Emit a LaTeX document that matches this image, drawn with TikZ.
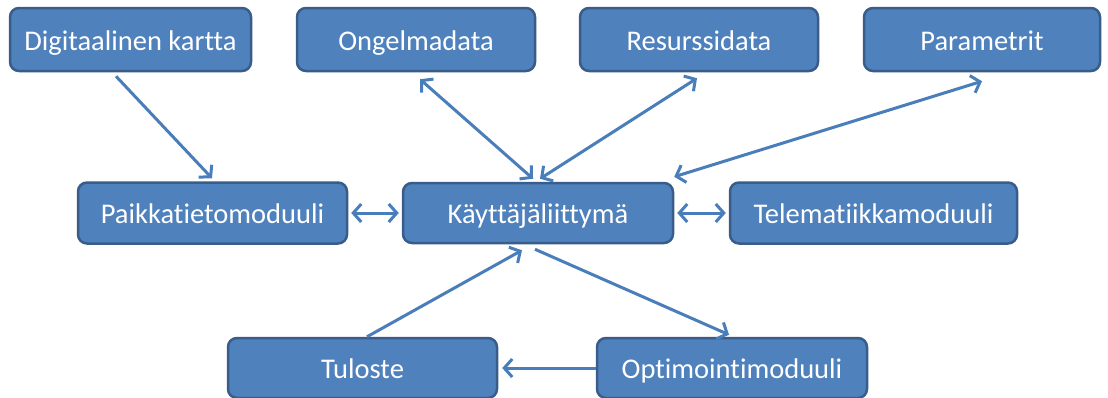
\documentclass[tikz,border=0pt]{standalone}
\usepackage{fontspec}
\setmainfont{Carlito}[Ligatures=NoCommon]
\usetikzlibrary{arrows.meta,calc}
\definecolor{boxfill}{HTML}{4F81BD}
\definecolor{boxline}{HTML}{385D8A}
\definecolor{arrowc}{HTML}{4A7EBB}
\begin{document}
\begin{tikzpicture}[x=1pt,y=-1pt,
  box/.style={draw=boxline, fill=boxfill, line width=2.5pt, rounded corners=9pt,
    text=white, font=\fontsize{28.5}{32}\selectfont, inner sep=0pt,
    text height=24pt, text depth=3pt},
  conn/.style={draw=arrowc, line width=3pt},
  tip/.style={-{Straight Barb[length=8pt,width=18pt]}},
  both/.style={{Straight Barb[length=8pt,width=18pt]}-{Straight Barb[length=8pt,width=18pt]}}]
\useasboundingbox (0,0) rectangle (1108,397);
\fill[white] (0,0) rectangle (1108,397);
% top row
\node[box, minimum width=241pt, minimum height=63pt] (dk)  at (130.5,39.5) {Digitaalinen kartta};
\node[box, minimum width=238pt, minimum height=63pt] (ong) at (416,39.5) {Ongelmadata};
\node[box, minimum width=238pt, minimum height=63pt] (res) at (699,39.5) {Resurssidata};
\node[box, minimum width=236pt, minimum height=63pt] (par) at (982,39.5) {Parametrit};
% middle row
\node[box, minimum width=269pt, minimum height=61pt] (pai) at (212.5,213) {Paikkatietomoduuli};
\node[box, minimum width=270pt, minimum height=60pt] (kay) at (538,213) {Käyttäjäliittymä};
\node[box, minimum width=287pt, minimum height=61pt] (tel) at (873.5,213) {Telematiikkamoduuli};
% bottom row
\node[box, minimum width=269pt, minimum height=60pt] (tul) at (362.5,368) {Tuloste};
\node[box, minimum width=270pt, minimum height=60pt] (opt) at (732,368) {Optimointimoduuli};
% connectors
\draw[conn, tip]  ($(dk.south)+(-14.5,4)$) -- ($(pai.north)+(-0.5,-3)$);
\draw[conn, both] ($(ong.south)+(4,7)$) -- ($(kay.north)+(-5,-3)$);
\draw[conn, both] ($(res.south)+(-2,6)$) -- ($(kay.north)+(2,-3)$);
\draw[conn, both] ($(par.south)+(0,9)$) -- ($(kay.north east)+(0,-5)$);
\draw[conn, both] ($(pai.east)+(3,0)$) -- ($(kay.west)+(-3,0)$);
\draw[conn, both] ($(kay.east)+(3,0)$) -- ($(tel.west)+(-3,0)$);
\draw[conn, tip]  ($(tul.north)+(4.5,0)$) -- ($(kay.south)+(-16,6)$);
\draw[conn, tip]  ($(kay.south)+(-3,5)$) -- ($(opt.north)+(-3,-2)$);
\draw[conn, tip]  (opt.west) -- ($(tul.east)+(4,0)$);
\end{tikzpicture}
\end{document}
